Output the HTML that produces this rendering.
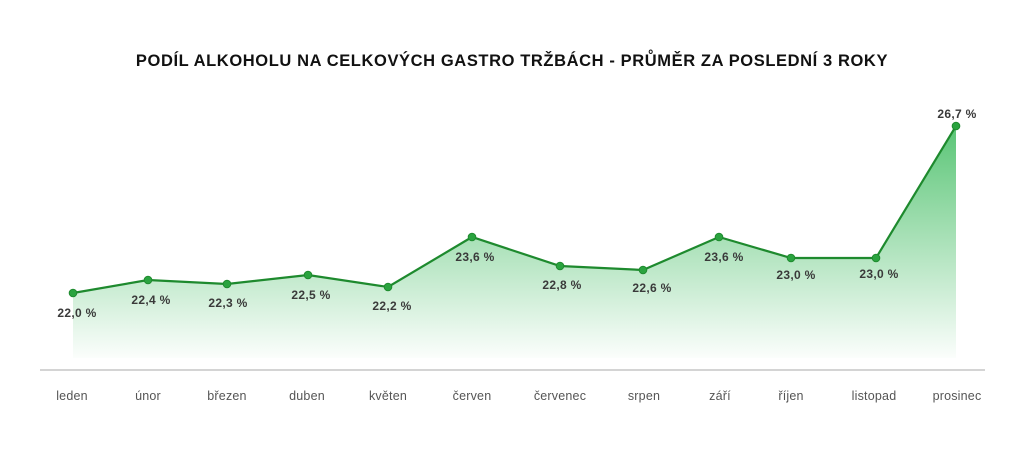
<!DOCTYPE html>
<html><head><meta charset="utf-8"><style>
body{margin:0;background:#fff;width:1024px;height:457px;overflow:hidden}
svg{display:block}
text{font-family:"Liberation Sans",sans-serif}
</style></head><body>
<svg width="1024" height="457" viewBox="0 0 1024 457">
<defs><linearGradient id="g" x1="0" y1="126" x2="0" y2="358" gradientUnits="userSpaceOnUse">
<stop offset="0" stop-color="#3dbb5e" stop-opacity="0.85"/>
<stop offset="1" stop-color="#3dbb5e" stop-opacity="0.02"/></linearGradient></defs>
<text x="512" y="66" text-anchor="middle" font-size="16.5" font-weight="bold" fill="#111" letter-spacing="0.6">PODÍL ALKOHOLU NA CELKOVÝCH GASTRO TRŽBÁCH - PRŮMĚR ZA POSLEDNÍ 3 ROKY</text>
<path d="M73,293 L148,280 L227,284 L308,275 L388,287 L472,237 L560,266 L643,270 L719,237 L791,258 L876,258 L956,126 L956,358 L73,358 Z" fill="url(#g)"/>
<polyline points="73,293 148,280 227,284 308,275 388,287 472,237 560,266 643,270 719,237 791,258 876,258 956,126" fill="none" stroke="#1e8a2e" stroke-width="2.2"/>
<g fill="#2aa33f" stroke="#1e8a2e" stroke-width="1">
<circle cx="73" cy="293" r="3.8"/><circle cx="148" cy="280" r="3.8"/><circle cx="227" cy="284" r="3.8"/><circle cx="308" cy="275" r="3.8"/><circle cx="388" cy="287" r="3.8"/><circle cx="472" cy="237" r="3.8"/><circle cx="560" cy="266" r="3.8"/><circle cx="643" cy="270" r="3.8"/><circle cx="719" cy="237" r="3.8"/><circle cx="791" cy="258" r="3.8"/><circle cx="876" cy="258" r="3.8"/><circle cx="956" cy="126" r="3.8"/>
</g>
<g font-size="12" font-weight="bold" fill="#3a3a3a" text-anchor="middle" letter-spacing="0.3">
<text x="77" y="317">22,0 %</text><text x="151" y="304">22,4 %</text><text x="228" y="307">22,3 %</text><text x="311" y="299">22,5 %</text><text x="392" y="310">22,2 %</text><text x="475" y="261">23,6 %</text><text x="562" y="289">22,8 %</text><text x="652" y="292">22,6 %</text><text x="724" y="261">23,6 %</text><text x="796" y="279">23,0 %</text><text x="879" y="278">23,0 %</text><text x="957" y="118">26,7 %</text>
</g>
<line x1="40" y1="370" x2="985" y2="370" stroke="#bbb" stroke-width="1.2"/>
<g font-size="12.5" fill="#555" text-anchor="middle" letter-spacing="0.2">
<text x="72" y="400">leden</text><text x="148" y="400">únor</text><text x="227" y="400">březen</text><text x="307" y="400">duben</text><text x="388" y="400">květen</text><text x="472" y="400">červen</text><text x="560" y="400">červenec</text><text x="644" y="400">srpen</text><text x="720" y="400">září</text><text x="791" y="400">říjen</text><text x="874" y="400">listopad</text><text x="957" y="400">prosinec</text>
</g>
</svg>
</body></html>
